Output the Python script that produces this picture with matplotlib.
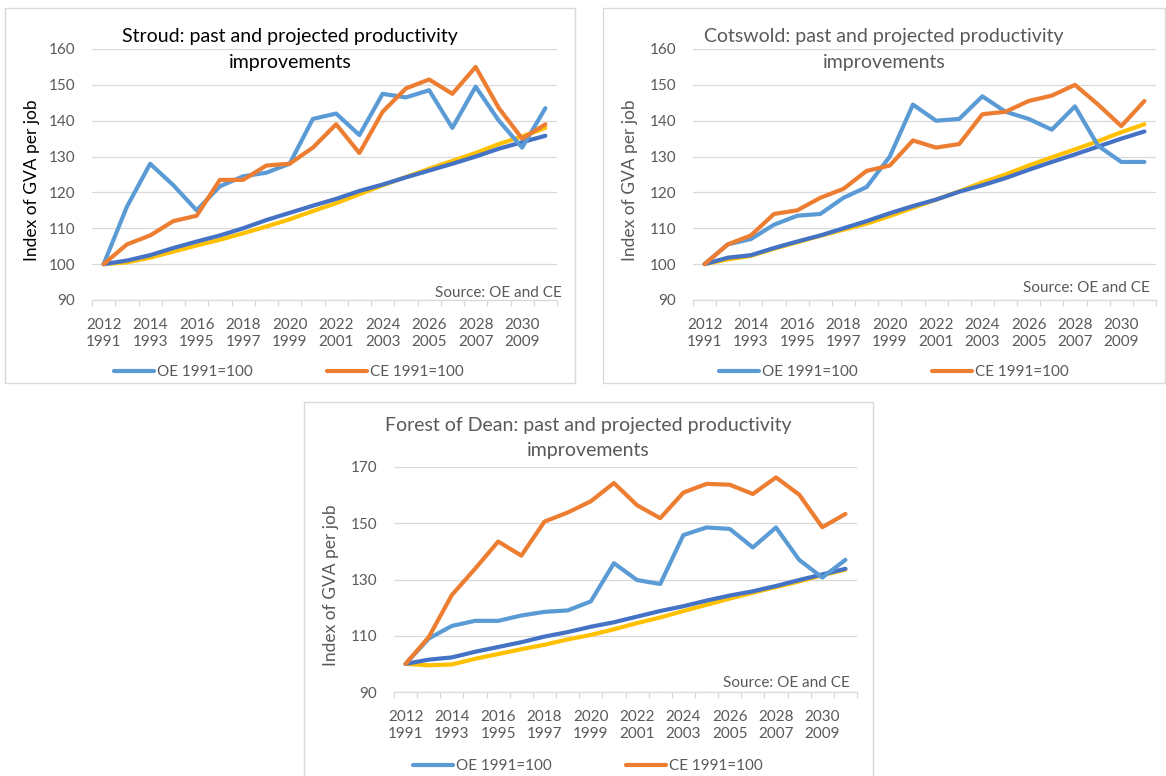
import numpy as np
import matplotlib
matplotlib.use('Agg')
import matplotlib.pyplot as plt
from matplotlib.patches import Rectangle

plt.rcParams['font.family'] = ['Lato', 'DejaVu Sans']

# categories: projection year (top row) and history year (bottom row)
years_top = [str(y) for y in range(2012, 2032)]
years_bot = [str(y) for y in range(1991, 2011)]

# Stroud
stroud_oe = [100, 116, 128, 122, 115, 121.7, 124.5, 125.5, 128, 140.5,
             142, 136, 147.5, 146.5, 148.5, 138, 149.5, 140, 132.5, 143.5]
stroud_ce = [100, 105.5, 108, 112, 113.5, 123.5, 123.5, 127.5, 128, 132.5,
             139, 131, 142.5, 149, 151.5, 147.5, 155, 143.5, 135, 139]
stroud_oe_proj = [100, 101, 102.5, 104.5, 106.3, 108, 110, 112.3, 114.3, 116.3,
                  118.2, 120.4, 122.2, 124.2, 126.1, 128, 130, 132.2, 134, 135.8]
stroud_ce_proj = [100, 100.5, 101.8, 103.5, 105.2, 106.8, 108.6, 110.5, 112.5, 114.8,
                  117, 119.5, 122, 124.3, 126.6, 128.8, 131, 133.5, 135.6, 138]

# Cotswold
cots_oe = [100, 105.5, 107, 111, 113.5, 114, 118.5, 121.5, 130, 144.5,
           140, 140.5, 146.8, 142.5, 140.5, 137.5, 144, 133, 128.5, 128.5]
cots_ce = [100, 105.5, 108, 114, 115, 118.5, 121, 126, 127.5, 134.5,
           132.5, 133.5, 141.8, 142.5, 145.5, 147, 150, 144.5, 138.5, 145.5]
cots_oe_proj = [100, 101.8, 102.5, 104.5, 106.3, 108, 110, 112, 114.2, 116.2,
                118, 120.2, 122, 124, 126.3, 128.5, 130.6, 132.8, 135, 137]
cots_ce_proj = [100, 101.3, 102.3, 104.3, 106.1, 107.9, 109.6, 111.3, 113.4, 115.7,
                118, 120.3, 122.8, 125, 127.5, 129.8, 132, 134.3, 136.8, 139]

# Forest of Dean
fod_oe = [100, 109, 113.5, 115.3, 115.3, 117.2, 118.5, 119, 122.2, 135.8,
          129.8, 128.4, 145.8, 148.5, 148, 141.4, 148.5, 137, 130.7, 137]
fod_ce = [100, 109.5, 124.5, 133.8, 143.5, 138.5, 150.6, 153.8, 157.8, 164.3,
          156.4, 151.8, 160.9, 164, 163.7, 160.4, 166.3, 160.2, 148.6, 153.3]
fod_oe_proj = [100, 101.5, 102.3, 104.3, 106, 107.7, 109.7, 111.3, 113.2, 114.8,
               116.8, 118.8, 120.5, 122.5, 124.3, 125.8, 127.7, 129.8, 131.8, 133.8]
fod_ce_proj = [100, 99.5, 99.8, 101.8, 103.5, 105.2, 106.8, 108.7, 110.3, 112.3,
               114.5, 116.5, 118.8, 121, 123.2, 125.3, 127.3, 129.3, 131.5, 133.5]

OE_C = '#5B9BD5'; CE_C = '#ED7D31'; PB_C = '#4472C4'; PY_C = '#FFC000'
GRID = '#D9D9D9'; TXT = '#595959'
W, H = 1166, 776

fig = plt.figure(figsize=(W / 100, H / 100), dpi=100)
fig.patch.set_facecolor('white')


def fx(x): return x / W
def fy(y): return 1 - y / H


def panel(box, area, title, tcol, ycol, ylim, ystep, oe, ce, pb, py,
          title_y, src, leg):
    # outer chart border
    x0, y0, x1, y1 = box
    fig.patches.append(Rectangle((fx(x0), fy(y1)), fx(x1 - x0), (y1 - y0) / H,
                                 transform=fig.transFigure, fill=False,
                                 edgecolor=GRID, lw=1.0))
    ax0, ay0, ax1, ay1 = area
    ax = fig.add_axes([fx(ax0), fy(ay1), fx(ax1 - ax0), (ay1 - ay0) / H])
    ax.set_facecolor('none')
    n = len(oe)
    x = np.arange(n)
    ax.plot(x, py, color=PY_C, lw=3.0, solid_capstyle='round', zorder=3)
    ax.plot(x, pb, color=PB_C, lw=3.0, solid_capstyle='round', zorder=4)
    l1, = ax.plot(x, oe, color=OE_C, lw=3.0, solid_capstyle='round', zorder=5,
                  label='OE 1991=100')
    l2, = ax.plot(x, ce, color=CE_C, lw=3.0, solid_capstyle='round', zorder=6,
                  label='CE 1991=100')
    ax.set_xlim(-0.5, n - 0.5)
    ax.set_ylim(*ylim)
    ax.set_yticks(np.arange(ylim[0], ylim[1] + 1, ystep))
    ax.grid(axis='y', color=GRID, lw=0.9)
    ax.set_axisbelow(True)
    for s in ['top', 'right', 'left']:
        ax.spines[s].set_visible(False)
    ax.spines['bottom'].set_color(GRID)
    ax.spines['bottom'].set_linewidth(0.9)
    ax.tick_params(axis='y', length=0, pad=12, labelsize=11, labelcolor=TXT)
    ax.set_xticks(x[::2])
    ax.set_xticklabels([t + '\n' + b for t, b in zip(years_top[::2], years_bot[::2])],
                       fontsize=11, color=TXT, linespacing=1.25)
    ax.set_xticks(np.arange(-0.5, n, 1.0), minor=True)
    ax.tick_params(axis='x', which='major', length=0, pad=13)
    ax.tick_params(axis='x', which='minor', length=4, color=GRID, width=0.9,
                   direction='out')
    # title
    cx = (x0 + x1) / 2
    fig.text(fx(cx), fy(title_y), title, ha='center', va='center',
             fontsize=14, color=tcol, linespacing=1.62)
    # y label
    fig.text(fx(x0 + 27), fy((ay0 + ay1) / 2 + 6), 'Index of GVA per job',
             rotation=90, ha='center', va='center', fontsize=12.5, color=ycol)
    # source note
    fig.text(fx(src[0]), fy(src[1]), 'Source: OE and CE', ha='right',
             va='center', fontsize=11, color=TXT)
    fig.legend(handles=[l1, l2], loc='center', ncol=2, frameon=False,
               bbox_to_anchor=(fx(leg[0]), fy(leg[1])),
               bbox_transform=fig.transFigure, fontsize=11, labelcolor=TXT,
               handlelength=2.6, handletextpad=0.2, columnspacing=4.9,
               borderpad=0)


panel((5, 8, 575, 383), (92, 49, 557, 300),
      'Stroud: past and projected productivity\nimprovements', '#000000', '#000000',
      (90, 160), 10, stroud_oe, stroud_ce, stroud_oe_proj, stroud_ce_proj,
      49.5, (562, 293), (289, 372))
panel((603, 8, 1165, 383), (693, 49, 1156, 300),
      'Cotswold: past and projected productivity\nimprovements', TXT, TXT,
      (90, 160), 10, cots_oe, cots_ce, cots_oe_proj, cots_ce_proj,
      49.5, (1150, 288), (894, 372))
panel((304, 402, 873, 790), (394, 467, 857, 692),
      'Forest of Dean: past and projected productivity\nimprovements', TXT, TXT,
      (90, 170), 20, fod_oe, fod_ce, fod_oe_proj, fod_ce_proj,
      438, (850, 683), (588, 766))

fig.savefig('out.png', dpi=100, facecolor='white')
